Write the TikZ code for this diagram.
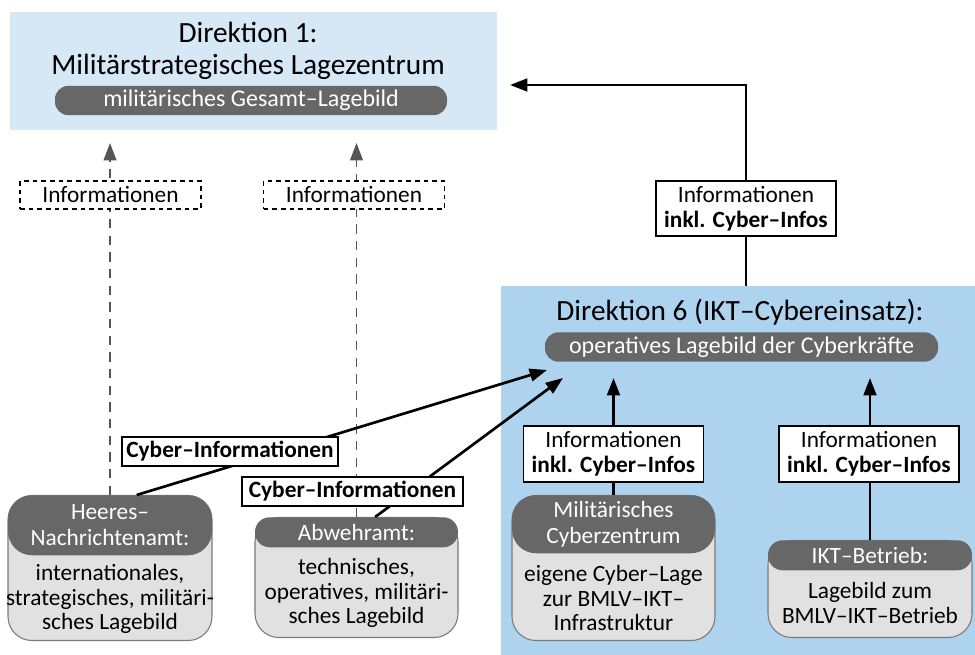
\documentclass[tikz,border=0pt]{standalone}
\usepackage{fontspec}
\setmainfont{Carlito}
\usetikzlibrary{arrows.meta}

\definecolor{dirblue}{HTML}{D6E7F5}
\definecolor{cyberblue}{HTML}{AED3EE}
\definecolor{pillgray}{HTML}{676767}
\definecolor{bodygray}{HTML}{E1E1E1}
\definecolor{edgegray}{HTML}{7A7A7A}
\definecolor{dashgray}{HTML}{555555}

\begin{document}
\begin{tikzpicture}[x=0.75pt,y=-0.75pt,
  region/.style={fill=#1, draw=none, inner sep=0pt},
  titletext/.style={font=\fontsize{22}{24}\selectfont, align=center, inner sep=0pt},
  pill/.style={fill=pillgray, text=white, rounded corners=10pt, minimum height=22pt,
    inner sep=0pt, font=\fontsize{18}{20}\selectfont},
  unitbody/.style={fill=bodygray, draw=edgegray, line width=0.8pt, rounded corners=18pt,
    minimum width=153pt, inner sep=0pt},
  unithead/.style={fill=pillgray, text=white, minimum width=153pt, inner sep=0pt,
    align=center, font=\fontsize{17.5}{20}\selectfont},
  unittext/.style={align=center, inner sep=0pt, font=\fontsize{17.5}{18.5}\selectfont},
  infobox/.style={draw=black, fill=white, line width=1pt, inner sep=0pt, align=center,
    minimum width=135pt, minimum height=42pt, font=\fontsize{17.5}{18.75}\selectfont},
  cyberbox/.style={draw=black, fill=white, line width=1pt, inner sep=0pt,
    minimum height=21.75pt, font=\fontsize{17.5}{20}\selectfont\bfseries},
  dashbox/.style={draw=black, dash pattern=on 3.5pt off 3pt, fill=white, line width=0.8pt,
    minimum width=135.75pt, minimum height=21pt, inner sep=0pt,
    font=\fontsize{17.5}{20}\selectfont},
  flow/.style={line width=2pt, -{Triangle[length=13pt,width=9.5pt]}},
  dflow/.style={draw=dashgray, line width=1.4pt, dash pattern=on 7pt off 5.5pt,
    -{Triangle[length=13pt,width=9.5pt,fill=dashgray]}},
]
\useasboundingbox (0,0) rectangle (975,655);

% Direktion 1
\node[region=dirblue, minimum width=365.25pt, minimum height=88.5pt] (d1) at (253.5,71) {};
\node[titletext] (d1title) at (248,51) {Direktion 1:\\Militärstrategisches Lagezentrum};
\node[pill, minimum width=294pt] (d1pill) at (251,100.5) {militärisches Gesamt–Lagebild};

% Direktion 6
\node[region=cyberblue, minimum width=355.5pt, minimum height=276.75pt] (d6) at (738,470.5) {};
\node[titletext] (d6title) at (740,312) {Direktion 6 (IKT–Cybereinsatz):};
\node[pill, minimum width=294.75pt] (d6pill) at (741.5,347) {operatives Lagebild der Cyberkräfte};

% Heeres-Nachrichtenamt
\node[unitbody, minimum height=108.75pt, anchor=north] (hna) at (110,495) {};
\node[unithead, minimum height=45pt, rounded corners=18pt, anchor=north] (hnahead) at (110,495) {Heeres–\\Nachrichtenamt:};
\node[unittext] (hnatext) at (110,599) {internationales,\\strategisches, militäri-\\sches Lagebild};

% Abwehramt
\node[unitbody, minimum width=152.25pt, minimum height=90pt, anchor=north] (abw) at (356.5,517) {};
\node[unithead, minimum width=152.25pt, minimum height=22.5pt, rounded corners=11pt, anchor=north] (abwhead) at (356.5,517) {Abwehramt:};
\node[unittext] (abwtext) at (356.5,593) {technisches,\\operatives, militäri-\\sches Lagebild};

% Militärisches Cyberzentrum
\node[unitbody, minimum width=152.25pt, minimum height=108.75pt, anchor=north] (mcz) at (613.5,495) {};
\node[unithead, minimum width=152.25pt, minimum height=43.5pt, rounded corners=18pt, anchor=north] (mczhead) at (613.5,495) {Militärisches\\Cyberzentrum};
\node[unittext] (mcztext) at (613.5,598) {eigene Cyber–Lage\\zur BMLV–IKT–\\Infrastruktur};

% IKT-Betrieb
\node[unitbody, minimum height=72.75pt, anchor=north] (ikt) at (870,540) {};
\node[unithead, minimum height=22.5pt, rounded corners=11pt, anchor=north] (ikthead) at (870,540) {IKT–Betrieb:};
\node[unittext] (ikttext) at (870,603) {Lagebild zum\\BMLV–IKT–Betrieb};

% arrow ends
\coordinate (t1) at (110,143);
\coordinate (t2) at (356.5,143);
\coordinate (c1end) at (547,370);
\coordinate (c2end) at (563,378);
\coordinate (m1) at (613.5,378);
\coordinate (m2) at (870,378);
\coordinate (bend) at (746,85);
\coordinate (d1end) at (510,85);

% connectors
\draw[dflow] (hnahead.north) -- (t1);
\draw[dflow] (abwhead.north) -- (t2);
\draw[flow] ([xshift=20pt]hnahead.north) -- (c1end);
\draw[flow] ([xshift=14pt]abwhead.north) -- (c2end);
\draw[flow] (mczhead.north) -- (m1);
\draw[flow] (ikthead.north) -- (m2);
\draw[flow] (bend |- d6.north) -- (bend) -- (d1end);

% labels on the connectors
\node[dashbox] (info1) at (110.5,195) {Informationen};
\node[dashbox] (info2) at (354,195) {Informationen};
\node[cyberbox, minimum width=162pt] (cy1) at (230,451.5) {Cyber–Informationen};
\node[cyberbox, minimum width=165.75pt] (cy2) at (352.5,491.5) {Cyber–Informationen};
\node[infobox] (mczinfo) at (613.5,454) {Informationen\\\textbf{inkl. Cyber–Infos}};
\node[infobox] (iktinfo) at (869,454) {Informationen\\\textbf{inkl. Cyber–Infos}};
\node[infobox, minimum height=41.25pt] (topinfo) at (746,208.5) {Informationen\\\textbf{inkl. Cyber–Infos}};
\end{tikzpicture}
\end{document}
